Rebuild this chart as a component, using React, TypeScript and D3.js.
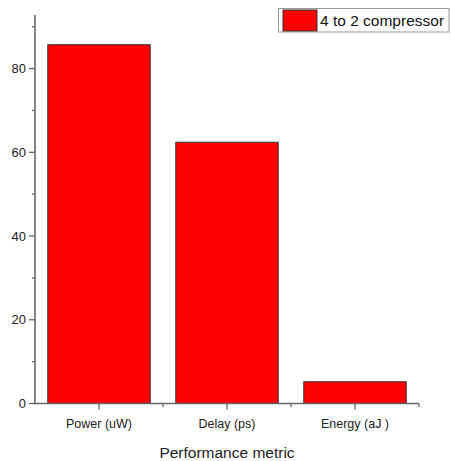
import * as d3 from "d3";

const categories = ["Power (uW)", "Delay (ps)", "Energy (aJ )"];
const values = [85.7, 62.4, 5.2];
const yMajorTicks = [0, 20, 40, 60, 80];
const yMinorTicks = [10, 30, 50, 70, 90];
const legendLabel = "4 to 2 compressor";
const xTitle = "Performance metric";

export default function App() {
  const width = 451;
  const height = 461;
  const left = 35;
  const right = 419;
  const top = 15;
  const bottom = 403.5;
  const font = "'Liberation Sans', Arial, sans-serif";
  const axisColor = "#666";

  const x = d3
    .scaleBand()
    .domain(categories)
    .range([left, right])
    .paddingInner(0.2)
    .paddingOuter(0.1);
  const y = d3.scaleLinear().domain([0, 92.8]).range([bottom, top]);

  // minor ticks between categories and at the end of the axis
  const xMinor = categories.slice(1).map((c) => x(c)! - (x.step() * x.paddingInner()) / 2);
  xMinor.push(right);

  return (
    <svg
      width={width}
      height={height}
      style={{ position: "absolute", left: 0, top: 0, background: "#fff" }}
    >
      {categories.map((c, i) => (
        <rect
          key={c}
          x={x(c)}
          y={y(values[i])}
          width={x.bandwidth()}
          height={y(0) - y(values[i])}
          fill="#ff0000"
          stroke="#333"
          strokeWidth={1}
        />
      ))}

      {/* y axis */}
      <line x1={left} x2={left} y1={top} y2={bottom} stroke={axisColor} strokeWidth={1.6} />
      {yMajorTicks.map((t) => (
        <g key={t}>
          <line x1={left - 6} x2={left} y1={y(t)} y2={y(t)} stroke={axisColor} strokeWidth={1.3} />
          <text
            x={left - 9}
            y={y(t)}
            textAnchor="end"
            dominantBaseline="central"
            fontFamily={font}
            fontSize={13}
            fill="#222"
          >
            {t}
          </text>
        </g>
      ))}
      {yMinorTicks.map((t) => (
        <line key={t} x1={left - 3} x2={left} y1={y(t)} y2={y(t)} stroke={axisColor} strokeWidth={1.3} />
      ))}

      {/* x axis */}
      <line x1={left - 1} x2={right} y1={bottom} y2={bottom} stroke={axisColor} strokeWidth={1.6} />
      {categories.map((c) => {
        const cx = x(c)! + x.bandwidth() / 2;
        return (
          <g key={c}>
            <line x1={cx} x2={cx} y1={bottom} y2={bottom + 6} stroke={axisColor} strokeWidth={1.3} />
            <text
              x={cx}
              y={bottom + 20}
              textAnchor="middle"
              dominantBaseline="central"
              fontFamily={font}
              fontSize={12.5}
              fill="#222"
            >
              {c}
            </text>
          </g>
        );
      })}
      {xMinor.map((mx, i) => (
        <line key={i} x1={mx} x2={mx} y1={bottom} y2={bottom + 3.5} stroke={axisColor} strokeWidth={1.3} />
      ))}
      <text
        x={(left + right) / 2}
        y={452}
        textAnchor="middle"
        dominantBaseline="central"
        fontFamily={font}
        fontSize={15.5}
        fill="#222"
      >
        {xTitle}
      </text>

      {/* legend */}
      <rect x={278.5} y={8.5} width={170.5} height={23.5} fill="#fff" stroke="#999" strokeWidth={1} />
      <rect x={283} y={10} width={34} height={21} fill="#ff0000" stroke="#333" strokeWidth={1} />
      <text
        x={320}
        y={20.5}
        dominantBaseline="central"
        fontFamily={font}
        fontSize={15.5}
        fill="#111"
      >
        {legendLabel}
      </text>
    </svg>
  );
}
